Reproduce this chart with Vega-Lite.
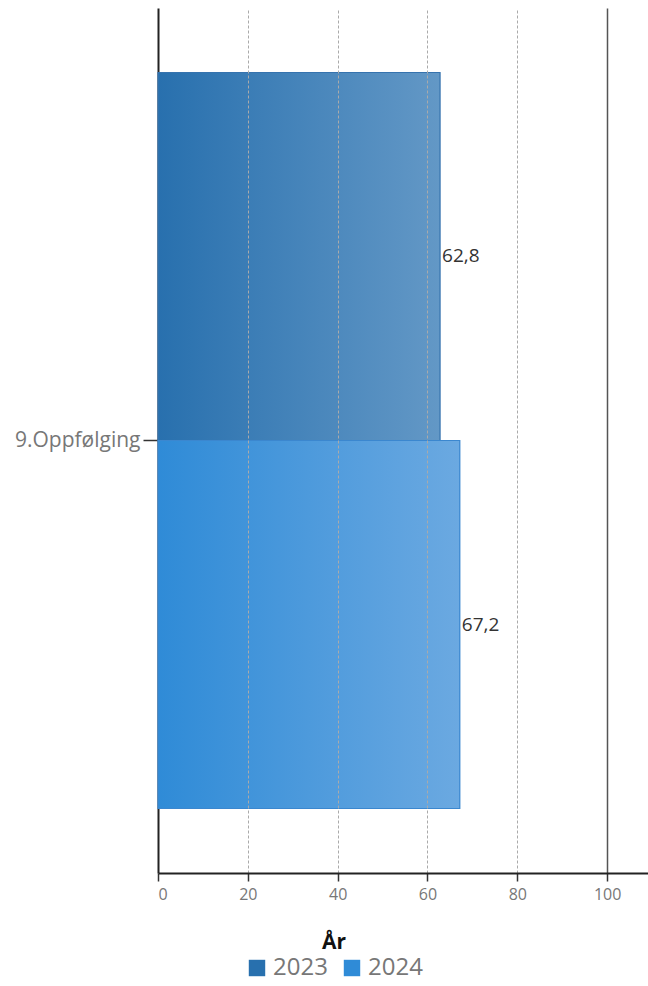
{
  "$schema": "https://vega.github.io/schema/vega-lite/v6.json",
  "autosize": "none",
  "width": 490,
  "height": 865,
  "padding": {"left": 158, "top": 8, "right": 0, "bottom": 113},
  "background": "white",
  "config": {"font": "Open Sans", "view": {"stroke": null}},
  "data": {"values": [
    {"category": "9.Oppfølging", "year": "2023", "value": 62.8, "label": "62,8"},
    {"category": "9.Oppfølging", "year": "2024", "value": 67.2, "label": "67,2"}
  ]},
  "encoding": {
    "y": {"field": "category", "type": "nominal", "title": null,
      "scale": {"paddingInner": 0, "paddingOuter": 0.0876},
      "axis": {"domainColor": "#222", "domainWidth": 2, "tickColor": "#333", "tickSize": 15, "tickWidth": 1.5,
        "labelFontSize": 21, "labelColor": "#777", "labelPadding": 3}},
    "yOffset": {"field": "year", "type": "nominal", "scale": {"paddingInner": 0, "paddingOuter": 0}},
    "x": {"field": "value", "type": "quantitative", "title": null,
      "scale": {"domain": [0, 109.1], "nice": false},
      "axis": {"values": [0, 20, 40, 60, 80, 100], "zindex": 1, "grid": true,
        "gridColor": {"condition": {"test": "datum.value === 100", "value": "#555"}, "value": "#aaa"},
        "gridDash": {"condition": {"test": "datum.value === 100", "value": []}, "value": [3, 2]},
        "gridWidth": {"condition": {"test": "datum.value === 100", "value": 1.5}, "value": 1},
        "gridOpacity": {"condition": {"test": "datum.value === 0", "value": 0}, "value": 1},
        "domainColor": "#222", "domainWidth": 2, "tickColor": "#333", "tickSize": 8, "tickWidth": 1.5,
        "labelFontSize": 16, "labelColor": "#777", "labelPadding": 5, "labelFlush": true}}
  },
  "layer": [
    {"mark": {"type": "bar"},
      "encoding": {"color": {"field": "year", "type": "nominal",
        "scale": {"domain": ["2023", "2024"], "range": ["#2870ae", "#2f8bd7"]},
        "legend": {"orient": "none", "legendX": 87, "legendY": 924, "direction": "horizontal",
          "title": "År", "titleFontSize": 21, "titleFontWeight": "bold", "titleColor": "#111",
          "titleAnchor": "middle", "titlePadding": 3, "labelFontSize": 24, "labelColor": "#777",
          "symbolType": "square", "symbolSize": 270, "symbolStrokeWidth": 0, "columnPadding": 12, "labelOffset": 4}}}},
    {"transform": [{"filter": "datum.year === '2023'"}],
      "mark": {"type": "bar", "stroke": "#3673ae", "strokeWidth": 1.2,
        "fill": {"gradient": "linear", "x1": 0, "y1": 0, "x2": 1, "y2": 0,
          "stops": [{"offset": 0, "color": "#2870ae"}, {"offset": 1, "color": "#6398c6"}]}}},
    {"transform": [{"filter": "datum.year === '2024'"}],
      "mark": {"type": "bar", "stroke": "#3b87cf", "strokeWidth": 1.2,
        "fill": {"gradient": "linear", "x1": 0, "y1": 0, "x2": 1, "y2": 0,
          "stops": [{"offset": 0, "color": "#2f8bd7"}, {"offset": 1, "color": "#6ba9e1"}]}}},
    {"mark": {"type": "text", "align": "left", "baseline": "middle", "dx": 2, "fontSize": 19, "color": "#333"},
      "encoding": {"text": {"field": "label"}}}
  ]
}
